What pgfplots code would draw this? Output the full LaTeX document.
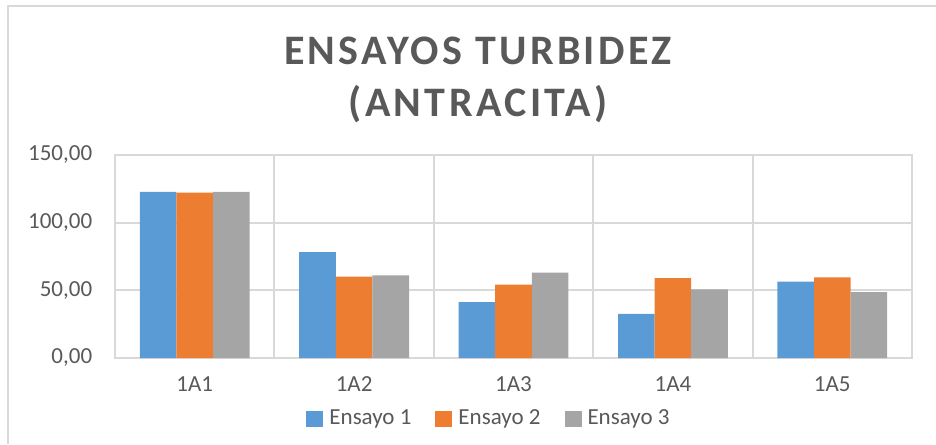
\documentclass[border=0pt]{standalone}
\usepackage{pgfplots}
\pgfplotsset{compat=1.18}
\usepackage{fontspec}
\setmainfont{Carlito}

\definecolor{serA}{HTML}{5B9BD5}
\definecolor{serB}{HTML}{ED7D31}
\definecolor{serC}{HTML}{A5A5A5}
\definecolor{gridc}{HTML}{D9D9D9}
\definecolor{txt}{HTML}{595959}

\begin{document}
\begin{tikzpicture}
\useasboundingbox (0,0) rectangle (468pt,222pt);
% chart area border (only left and top fall inside the picture)
\draw[gridc, line width=1pt] (4pt,0pt) -- (4pt,219pt) -- (468pt,219pt);

% title
\node[anchor=base, text=txt, font=\bfseries\fontsize{21}{25}\selectfont\addfontfeatures{LetterSpace=8}]
  at (239pt,189.5pt) {ENSAYOS TURBIDEZ};
\node[anchor=base, text=txt, font=\bfseries\fontsize{21}{25}\selectfont\addfontfeatures{LetterSpace=8}]
  at (239pt,163.5pt) {(ANTRACITA)};

\begin{axis}[
  at={(57.5pt,43pt)}, anchor=south west,
  scale only axis,
  width=398.5pt, height=101.5pt,
  ybar=0pt, bar width=18.3pt,
  xmin=-0.5, xmax=4.5,
  ymin=0, ymax=150,
  xtick={0,1,2,3,4},
  xticklabels={1A1,1A2,1A3,1A4,1A5},
  minor xtick={0.5,1.5,2.5,3.5},
  ytick={0,50,100,150},
  major tick length=0pt, minor tick length=0pt,
  xmajorgrids=false, xminorgrids=true, ymajorgrids=true,
  grid style={gridc, line width=1pt},
  minor grid style={gridc, line width=1pt},
  axis line style={gridc, line width=1pt},
  tick label style={font=\fontsize{11.5}{13}\selectfont, text=txt},
  x tick label style={inner sep=0pt, anchor=north, yshift=-9pt},
  y tick label style={inner sep=0pt, anchor=east, xshift=-11.2pt},
  /pgf/number format/assume math mode=true,
  yticklabel={\pgfmathprintnumber[fixed, fixed zerofill, precision=2, use comma, 1000 sep={}]{\tick}},
  legend columns=3,
  legend style={at={(0.468,-0.300)}, anchor=center, draw=none, inner sep=0pt,
    font=\fontsize{11.5}{13}\selectfont, text=txt,
    nodes={inner sep=0pt},
    /tikz/every odd column/.append style={column sep=3pt},
    /tikz/every even column/.append style={column sep=12pt}},
  legend cell align=left,
  legend image code/.code={\fill[#1] (0pt,-4.2pt) rectangle (8.5pt,4.2pt);},
]
\addplot[fill=serA, draw=none] coordinates {(0,122.7) (1,78.2) (2,41.3) (3,32.6) (4,56.4)};
\addplot[fill=serB, draw=none] coordinates {(0,122.2) (1,60.1) (2,54.2) (3,59.1) (4,59.6)};
\addplot[fill=serC, draw=none] coordinates {(0,122.7) (1,61.1) (2,63.1) (3,50.7) (4,48.7)};
\legend{Ensayo 1,Ensayo 2,Ensayo 3}
\end{axis}
\end{tikzpicture}
\end{document}
